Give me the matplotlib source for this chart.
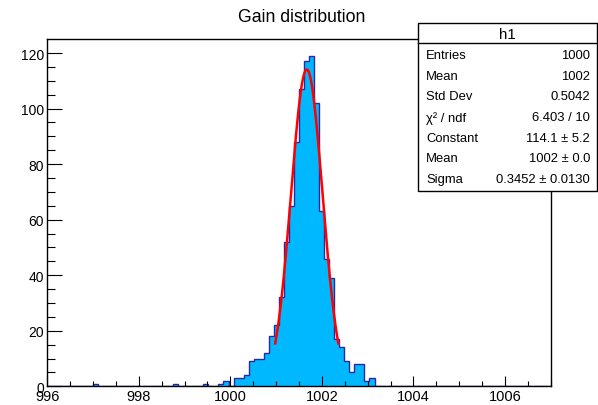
import numpy as np
import matplotlib
matplotlib.use('Agg')
import matplotlib.pyplot as plt
from matplotlib.patches import Rectangle
from matplotlib.lines import Line2D
from matplotlib.ticker import MultipleLocator

plt.rcParams['font.family'] = ['Liberation Sans', 'DejaVu Sans']

# histogram h1: 100 bins from 996 to 1007
xmin, xmax, nbins = 996.0, 1007.0, 100
counts = [
    0, 0, 0, 0, 0, 0, 0, 0, 0, 1,
    0, 0, 0, 0, 0, 0, 0, 0, 0, 0,
    0, 0, 0, 0, 0, 1, 0, 0, 0, 0,
    0, 1, 0, 0, 1, 2, 0, 3, 3, 4,
    9, 10, 10, 12, 18, 22, 32, 52, 65, 88,
    107, 117, 119, 102, 63, 46, 39, 17, 14, 9,
    5, 8, 8, 2, 3, 0, 0, 0, 0, 0,
    0, 0, 0, 0, 0, 0, 0, 0, 0, 0,
    0, 0, 0, 0, 0, 0, 0, 0, 0, 0,
    0, 0, 0, 0, 0, 0, 0, 0, 0, 0,
]

# gaussian fit
fit_const = 114.1
fit_mean = 1001.67
fit_sigma = 0.3452

stat_labels = ['Entries', 'Mean', 'Std Dev', 'χ² / ndf', 'Constant', 'Mean', 'Sigma']
stat_values = ['1000', '1002', '0.5042', '6.403 / 10', '114.1 ± 5.2', '1002 ± 0.0', '0.3452 ± 0.0130']

W, H = 598, 406
fig = plt.figure(figsize=(W / 100, H / 100), dpi=100)
ax = fig.add_axes([47.3 / W, 18.7 / H, 503.4 / W, 347 / H])

edges = np.linspace(xmin, xmax, nbins + 1)
ax.stairs(counts, edges, fill=True, color='#00b8ff', lw=0)
ax.stairs(counts, edges, baseline=0, color='#2a2aa0', lw=1.0)

xf = np.linspace(fit_mean - 2 * fit_sigma, fit_mean + 2 * fit_sigma, 200)
yf = fit_const * np.exp(-0.5 * ((xf - fit_mean) / fit_sigma) ** 2)
ax.plot(xf, yf, color='red', lw=1.8)

ax.set_xlim(xmin, xmax)
ax.set_ylim(0, 1.05 * max(counts))
ax.xaxis.set_major_locator(MultipleLocator(2))
ax.xaxis.set_minor_locator(MultipleLocator(0.5))
ax.yaxis.set_major_locator(MultipleLocator(20))
ax.yaxis.set_minor_locator(MultipleLocator(5))
ax.tick_params(axis='x', which='major', direction='in', length=7.5, width=0.8, labelsize=10.5, pad=2)
ax.tick_params(axis='x', which='minor', direction='in', length=3.8, width=0.8)
ax.tick_params(axis='y', which='major', direction='in', length=10.8, width=0.8, labelsize=10, pad=2.5)
ax.tick_params(axis='y', which='minor', direction='in', length=5.4, width=0.8)
for s in ax.spines.values():
    s.set_linewidth(1.0)

fig.text(302 / W, 1 - 17 / H, 'Gain distribution', ha='center', va='center', fontsize=12.7)

# stats box
def fx(x):
    return x / W

def fy(y):
    return 1 - y / H

bx0, bx1, by0, by1 = 418, 597, 24, 192
fig.add_artist(Rectangle((fx(bx0), fy(by1)), fx(bx1) - fx(bx0), fy(by0) - fy(by1),
                         transform=fig.transFigure, facecolor='white', edgecolor='black', lw=1.0, zorder=5))
fig.add_artist(Line2D([fx(bx0), fx(bx1)], [fy(44), fy(44)], transform=fig.transFigure,
                      color='black', lw=1.0, zorder=6))
fig.text(fx((bx0 + bx1) / 2), fy(35), 'h1', ha='center', va='center', fontsize=10.8, zorder=7)
for i, (lab, val) in enumerate(zip(stat_labels, stat_values)):
    yy = 56 + 20.7 * i
    fig.text(fx(426), fy(yy), lab, ha='left', va='center', fontsize=9.4, zorder=7)
    fig.text(fx(590), fy(yy), val, ha='right', va='center', fontsize=9.4, zorder=7)

fig.savefig('out.png', dpi=100)
